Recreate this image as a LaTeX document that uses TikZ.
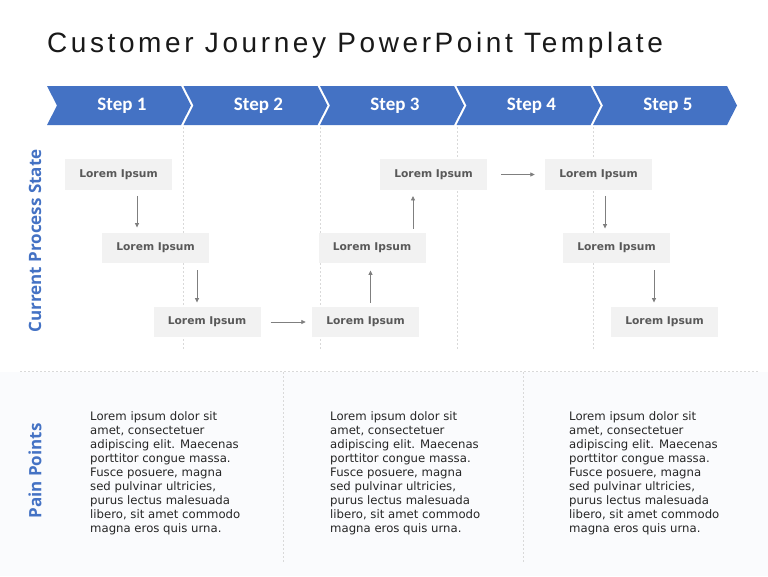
\documentclass[tikz,border=0pt]{standalone}
\usepackage{fontspec}
\setmainfont{DejaVu Sans}
\newfontfamily\titlefont[LetterSpace=12.8]{Liberation Sans}
\newfontfamily\stepfont{Carlito}
\newfontfamily\labelfont{Open Sans}
\newfontfamily\boxfont{DejaVu Sans}
\usetikzlibrary{arrows.meta}
\definecolor{jblue}{HTML}{4472C4}
\definecolor{boxgray}{HTML}{F2F2F2}
\definecolor{boxtext}{HTML}{595959}
\definecolor{arrgray}{HTML}{7F7F7F}
\definecolor{dashgray}{HTML}{D9D9D9}
\definecolor{bodytext}{HTML}{262626}
\definecolor{lowbg}{HTML}{FAFBFD}
\tikzset{
  chev/.style={fill=jblue, draw=none},
  steptext/.style={text=white, font=\stepfont\bfseries\fontsize{19}{22}\selectfont, inner sep=0},
  lbox/.style={fill=boxgray, draw=none, minimum width=107pt, minimum height=30.5pt, inner sep=0,
    text=boxtext, font=\boxfont\bfseries\fontsize{10.7}{12}\selectfont},
  arr/.style={draw=arrgray, line width=0.8pt, -{Triangle[length=4.5pt,width=4pt]}},
  guide/.style={draw=dashgray, line width=0.8pt, dash pattern=on 2pt off 2pt},
  sidelabel/.style={rotate=90, text=jblue, font=\labelfont\bfseries\fontsize{17}{20}\selectfont, inner sep=0},
  para/.style={align=left, inner sep=0, text=bodytext, font=\fontsize{11.7}{14}\selectfont}
}
\begin{document}
\begin{tikzpicture}[x=1pt,y=-1pt]
\useasboundingbox (0,0) rectangle (768,576);
\fill[white] (0,0) rectangle (768,576);
\fill[lowbg] (0,372) rectangle (768,576);

% title
\node[anchor=base west, inner sep=0, font=\titlefont\fontsize{28}{32}\selectfont, text=black!90] (title) at (47,52) {Customer Journey PowerPoint Template};

% guides
\foreach \x in {183,320,457,593} \draw[guide] (\x,127) -- (\x,350);
\draw[guide] (20,371) -- (758,371);
\foreach \x in {283,523} \draw[guide] (\x,372) -- (\x,562);

% chevrons
\foreach \i in {0,...,4}{
  \pgfmathsetmacro{\a}{47+136.5*\i}
  \fill[chev] (\a,86) -- (\a+134,86) -- (\a+144,105.5) -- (\a+134,125) -- (\a,125) -- (\a+10,105.5) -- cycle;
  \pgfmathtruncatemacro{\n}{\i+1}
  \node[steptext] (s\n) at (\a+75,105.5) {Step \n};
}

% side labels
\node[sidelabel] (cps) at (35,241) {Current Process State};
\node[sidelabel] (pp) at (35,471) {Pain Points};

% boxes
\node[lbox] (B1) at (118.5,174.5) {Lorem Ipsum};
\node[lbox] (B2) at (155.5,248) {Lorem Ipsum};
\node[lbox] (B3) at (207,322) {Lorem Ipsum};
\node[lbox] (B4) at (365.5,322) {Lorem Ipsum};
\node[lbox] (B5) at (372,248) {Lorem Ipsum};
\node[lbox] (B6) at (433.5,174.5) {Lorem Ipsum};
\node[lbox] (B7) at (598.5,174.5) {Lorem Ipsum};
\node[lbox] (B8) at (616.5,248) {Lorem Ipsum};
\node[lbox] (B9) at (664.5,322) {Lorem Ipsum};

% arrows
\draw[arr, shorten <=6pt, shorten >=5pt] ([xshift=18.5pt]B1.south) -- ([xshift=-18.5pt]B2.north);
\draw[arr, shorten <=7pt, shorten >=4pt] ([xshift=41.5pt]B2.south) -- ([xshift=-10pt]B3.north);
\draw[arr, shorten <=10pt, shorten >=6pt] (B3.east) -- (B4.west);
\draw[arr, shorten <=4pt, shorten >=7pt] ([xshift=5pt]B4.north) -- ([xshift=-1.5pt]B5.south);
\draw[arr, shorten <=4pt, shorten >=6pt] ([xshift=41pt]B5.north) -- ([xshift=-20.5pt]B6.south);
\draw[arr, shorten <=14pt, shorten >=10pt] (B6.east) -- (B7.west);
\draw[arr, shorten <=6pt, shorten >=4pt] ([xshift=6.5pt]B7.south) -- ([xshift=-11.5pt]B8.north);
\draw[arr, shorten <=7pt, shorten >=4pt] ([xshift=37.5pt]B8.south) -- ([xshift=-10.5pt]B9.north);

% paragraphs
\foreach \x/\nm in {90/p1,330/p2,569/p3}{
\node[para, anchor=north west] (\nm) at (\x,411.5) {Lorem ipsum dolor sit\\amet, consectetuer\\adipiscing elit. Maecenas\\porttitor congue massa.\\Fusce posuere, magna\\sed pulvinar ultricies,\\purus lectus malesuada\\libero, sit amet commodo\\magna eros quis urna.};
}
\end{tikzpicture}
\end{document}
